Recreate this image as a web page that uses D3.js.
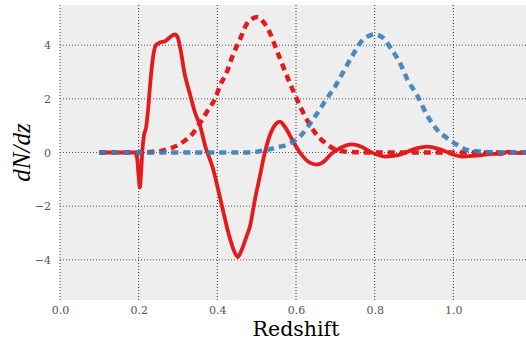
<!DOCTYPE html>
<html>
<head>
<meta charset="utf-8">
<script src="https://cdn.jsdelivr.net/npm/d3@7"></script>
<style>
  body { margin: 0; background: #fff; }
  svg { display: block; }
  .tick text { font-family: "DejaVu Serif", serif; font-size: 11px; fill: #555; }
</style>
</head>
<body>
<svg width="526" height="339"></svg>
<script>
// redshift / dN/dz values
var xTicks = [0.0, 0.2, 0.4, 0.6, 0.8, 1.0];
var yTicks = [-4, -2, 0, 2, 4];

var solidZ = [0.10,0.15,0.19,0.196,0.200,0.203,0.206,0.209,0.213,0.219,0.224,0.229,0.236,0.244,0.254,0.267,0.28,0.292,0.299,0.307,0.316,0.33,0.343,0.356,0.37,0.389,0.40,0.415,0.43,0.445,0.452,0.46,0.475,0.483,0.495,0.508,0.52,0.535,0.548,0.559,0.572,0.595,0.615,0.635,0.653,0.67,0.69,0.71,0.742,0.765,0.79,0.826,0.86,0.895,0.933,0.97,1.0,1.024,1.06,1.1,1.12,1.14,1.16,1.19];
var solidN = [0,0,0,-0.2,-0.9,-1.3,-0.8,0,0.6,0.95,1.6,2.5,3.5,4.0,4.1,4.15,4.3,4.4,4.3,3.8,3.0,2.2,1.5,1.0,0.2,-0.6,-1.25,-2.2,-3.1,-3.75,-3.9,-3.7,-3.1,-2.75,-1.8,-0.9,-0.05,0.7,1.05,1.15,0.95,0.35,-0.1,-0.38,-0.45,-0.35,-0.05,0.15,0.3,0.22,0.02,-0.15,-0.1,0.1,0.22,0.1,-0.08,-0.15,-0.12,-0.05,-0.06,0.03,-0.02,0];

var redZ = [0.10,0.20,0.23,0.254,0.28,0.30,0.318,0.337,0.356,0.375,0.394,0.407,0.424,0.44,0.457,0.475,0.49,0.503,0.515,0.529,0.554,0.584,0.602,0.623,0.648,0.673,0.699,0.724,0.75,0.80,1.19];
var redN = [0,0,0.02,0.05,0.15,0.28,0.45,0.7,1.1,1.55,2.0,2.5,3.0,3.65,4.2,4.8,5.0,5.05,4.9,4.6,3.7,2.6,2.0,1.35,0.75,0.37,0.12,0.04,0.01,0,0];

var blueZ = [0.10,0.45,0.50,0.526,0.555,0.584,0.61,0.643,0.678,0.703,0.72,0.745,0.77,0.80,0.821,0.843,0.864,0.884,0.907,0.933,0.958,0.983,1.008,1.034,1.075,1.12,1.19];
var blueN = [0,0,0.03,0.1,0.2,0.33,0.6,1.23,2.0,2.55,3.0,3.65,4.2,4.4,4.28,3.84,3.35,2.7,2.16,1.4,0.86,0.55,0.3,0.1,0.03,0,0];

var svg = d3.select("svg");
var margin = {left: 60, top: 5, right: -6, bottom: 39};
var width = 526 - margin.left - margin.right,
    height = 339 - margin.top - margin.bottom;

var x = d3.scaleLinear().domain([0, 1.2]).range([0, width]);
var y = d3.scaleLinear().domain([-5.5, 5.5]).range([height, 0]);

var g = svg.append("g")
    .attr("transform", "translate(" + margin.left + "," + margin.top + ")");

g.append("rect")
    .attr("width", width)
    .attr("height", height)
    .attr("fill", "#eeeeee");

g.append("clipPath").attr("id", "clip")
  .append("rect").attr("width", width).attr("height", height);

// grid
g.append("g").selectAll("line")
    .data(xTicks)
    .enter().append("line")
    .attr("x1", function(d) { return x(d); })
    .attr("x2", function(d) { return x(d); })
    .attr("y1", 0).attr("y2", height)
    .attr("stroke", "#333")
    .attr("stroke-width", 1)
    .attr("stroke-dasharray", "1,2");

g.append("g").selectAll("line")
    .data(yTicks)
    .enter().append("line")
    .attr("x1", 0).attr("x2", width)
    .attr("y1", function(d) { return y(d); })
    .attr("y2", function(d) { return y(d); })
    .attr("stroke", "#555")
    .attr("stroke-width", 1)
    .attr("stroke-dasharray", "1,2");

// axes
var xAxis = g.append("g")
    .attr("transform", "translate(0," + height + ")")
    .call(d3.axisBottom(x).tickValues(xTicks).tickFormat(d3.format(".1f")).tickSize(0).tickPadding(6));
var yAxis = g.append("g")
    .call(d3.axisLeft(y).tickValues(yTicks).tickFormat(function(d) { return d < 0 ? "\u2212" + (-d) : d; }).tickSize(0).tickPadding(9));
xAxis.select(".domain").remove();
yAxis.select(".domain").remove();

// lines
function series(zs, ns) {
    return zs.map(function(z, i) { return [z, ns[i]]; });
}
var line = d3.line()
    .x(function(d) { return x(d[0]); })
    .y(function(d) { return y(d[1]); })
    .curve(d3.curveMonotoneX);

var gLines = g.append("g").attr("clip-path", "url(#clip)");

gLines.append("path")
    .datum(series(solidZ, solidN))
    .attr("d", line)
    .attr("fill", "none")
    .attr("stroke", "#e41a1c")
    .attr("stroke-width", 3.8)
    .attr("stroke-linejoin", "round");

gLines.append("path")
    .datum(series(redZ, redN))
    .attr("d", line)
    .attr("fill", "none")
    .attr("stroke", "#e41a1c")
    .attr("stroke-width", 4.5)
    .attr("stroke-dasharray", "7,5");

gLines.append("path")
    .datum(series(blueZ, blueN))
    .attr("d", line)
    .attr("fill", "none")
    .attr("stroke", "#377eb8")
    .attr("stroke-opacity", 0.9)
    .attr("stroke-width", 4.5)
    .attr("stroke-dasharray", "7,5");

// axis labels
svg.append("text")
    .attr("x", margin.left + width / 2)
    .attr("y", 336)
    .attr("text-anchor", "middle")
    .style("font-family", "'DejaVu Serif', serif")
    .style("font-size", "20.5px")
    .text("Redshift");

svg.append("text")
    .attr("transform", "translate(30," + (margin.top + y(0)) + ") rotate(-90)")
    .attr("text-anchor", "middle")
    .style("font-family", "'Liberation Serif', serif")
    .style("font-style", "italic")
    .style("font-size", "25px")
    .text("dN/dz");
</script>
</body>
</html>
